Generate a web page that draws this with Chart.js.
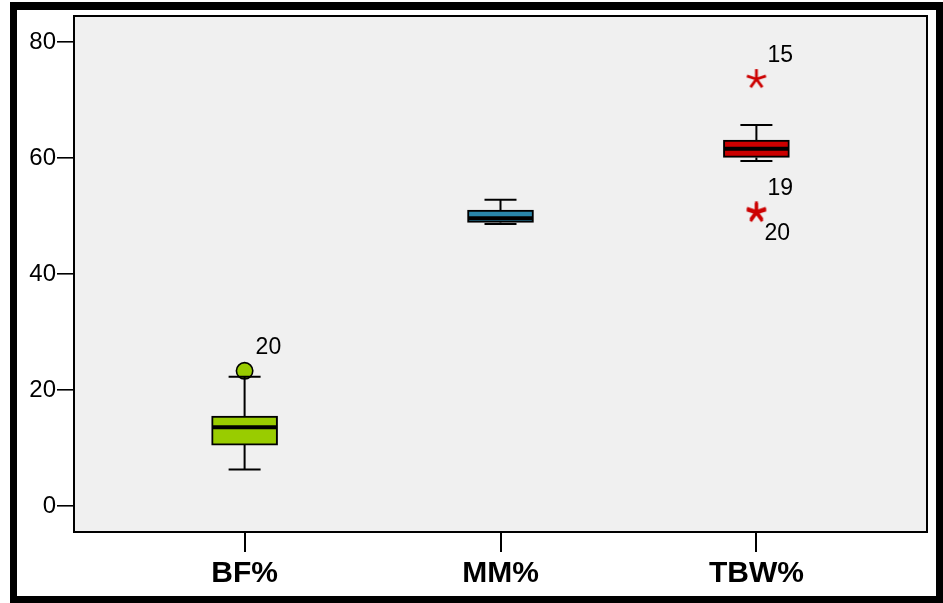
<!DOCTYPE html>
<html>
<head>
<meta charset="utf-8">
<script src="https://cdn.jsdelivr.net/npm/chart.js@4.4.1/dist/chart.umd.min.js"></script>
<style>
  html, body { margin: 0; padding: 0; background: #fff; }
  #wrap { width: 943px; height: 603px; position: relative; }
</style>
</head>
<body>
<div id="wrap"><canvas id="c" width="943" height="603"></canvas></div>
<script>
// Body composition (%) — five-number summaries per measure
const categories  = ['BF%', 'MM%', 'TBW%'];
const boxColors   = ['#99cc00', '#2a87ab', '#cc0000'];
const whiskerLow  = [6.3, 48.6, 59.5];
const quartile1   = [10.5, 48.9, 60.1];
const medians     = [13.6, 49.6, 61.6];
const quartile3   = [15.5, 51.0, 63.1];
const whiskerHigh = [22.3, 52.8, 65.7];
const yTicks      = [0, 20, 40, 60, 80];

// Outlying cases: category index, value, case number
const outlierCat   = [0, 2, 2, 2];
const outlierValue = [23.3, 73.6, 50.8, 50.5];
const outlierCase  = ['20', '15', '19', '20'];
const outlierKind  = ['circle', 'star', 'star', 'star'];

const FONT = "'Liberation Sans', Arial, Helvetica, sans-serif";

// five-armed asterisk used for extreme values
function makeAsterisk(color) {
  const c = document.createElement('canvas');
  c.width = 24; c.height = 24;
  const g = c.getContext('2d');
  g.strokeStyle = color; g.lineWidth = 2.8; g.lineCap = 'butt';
  const r = 10;
  for (let k = 0; k < 5; k++) {
    const a = -Math.PI / 2 + k * 2 * Math.PI / 5;
    g.beginPath();
    g.moveTo(12, 12);
    g.lineTo(12 + r * Math.cos(a), 12 + r * Math.sin(a));
    g.stroke();
  }
  return c;
}
const asterisk = makeAsterisk('#cc0000');

const circlePts = [], starPts = [];
outlierCat.forEach((c, i) => {
  const p = { x: c, y: outlierValue[i], id: outlierCase[i] };
  (outlierKind[i] === 'circle' ? circlePts : starPts).push(p);
});

const framePlugin = {
  id: 'frame',
  beforeDraw(chart) {
    const { ctx, chartArea: a } = chart;
    ctx.save();
    ctx.fillStyle = '#fff';
    ctx.fillRect(0, 0, chart.width, chart.height);
    ctx.fillStyle = '#000';
    ctx.fillRect(10, 2, 933, 601);
    ctx.fillStyle = '#fff';
    ctx.fillRect(17, 10, 919, 586);
    ctx.fillStyle = '#f0f0f0';
    ctx.fillRect(a.left, a.top, a.right - a.left, a.bottom - a.top);
    ctx.restore();
  },
  afterDraw(chart) {
    const { ctx, chartArea: a } = chart;
    ctx.save();
    ctx.strokeStyle = '#000';
    ctx.lineWidth = 2;
    ctx.strokeRect(a.left, a.top, a.right - a.left, a.bottom - a.top);
    ctx.restore();
  }
};

// whiskers, caps and median bars drawn on the chart's own scales
const boxPlugin = {
  id: 'boxParts',
  afterDatasetsDraw(chart) {
    const { ctx, scales: { x, y } } = chart;
    const bars = chart.getDatasetMeta(0).data;
    ctx.save();
    ctx.strokeStyle = '#000';
    categories.forEach((c, i) => {
      const cx = x.getPixelForValue(i);
      const half = bars[i].width / 2;
      const cap = 16;
      ctx.lineWidth = 2;
      ctx.beginPath();
      ctx.moveTo(cx, y.getPixelForValue(quartile3[i]));
      ctx.lineTo(cx, y.getPixelForValue(whiskerHigh[i]));
      ctx.moveTo(cx, y.getPixelForValue(quartile1[i]));
      ctx.lineTo(cx, y.getPixelForValue(whiskerLow[i]));
      ctx.moveTo(cx - cap, y.getPixelForValue(whiskerHigh[i]));
      ctx.lineTo(cx + cap, y.getPixelForValue(whiskerHigh[i]));
      ctx.moveTo(cx - cap, y.getPixelForValue(whiskerLow[i]));
      ctx.lineTo(cx + cap, y.getPixelForValue(whiskerLow[i]));
      ctx.stroke();
      ctx.lineWidth = 4;
      ctx.beginPath();
      ctx.moveTo(cx - half + 1, y.getPixelForValue(medians[i]));
      ctx.lineTo(cx + half - 1, y.getPixelForValue(medians[i]));
      ctx.stroke();
    });
    ctx.restore();
  },
  afterDraw(chart) {
    const { ctx, scales: { x, y } } = chart;
    ctx.save();
    ctx.fillStyle = '#000';
    ctx.font = '23px ' + FONT;
    ctx.textAlign = 'left';
    ctx.textBaseline = 'middle';
    outlierCat.forEach((c, i) => {
      const px = x.getPixelForValue(c);
      const py = y.getPixelForValue(outlierValue[i]);
      // a coincident case sharing the same spot gets its label underneath
      const shared = outlierCat.some((c2, j) => j < i && c2 === c && Math.abs(outlierValue[j] - outlierValue[i]) < 1);
      if (shared) ctx.fillText(outlierCase[i], px + 8, py + 21);
      else ctx.fillText(outlierCase[i], px + 11, py - 23);
    });
    ctx.restore();
  }
};

new Chart(document.getElementById('c'), {
  type: 'bar',
  data: {
    datasets: [
      {
        type: 'bar',
        data: categories.map((c, i) => ({ x: i, y: [quartile1[i], quartile3[i]] })),
        backgroundColor: boxColors,
        borderColor: '#000',
        borderWidth: 2,
        borderSkipped: false,
        barThickness: 66,
        order: 3
      },
      {
        type: 'scatter',
        data: circlePts,
        pointStyle: 'circle',
        pointRadius: 8.2,
        backgroundColor: boxColors[0],
        borderColor: '#000',
        borderWidth: 1.6,
        order: 1
      },
      {
        type: 'scatter',
        data: starPts,
        pointStyle: asterisk,
        pointRadius: 10,
        order: 1
      }
    ]
  },
  options: {
    responsive: false,
    animation: false,
    events: [],
    layout: { padding: { left: 0, top: 16, right: 16, bottom: 0 } },
    plugins: { legend: { display: false }, tooltip: { enabled: false } },
    scales: {
      x: {
        type: 'linear',
        min: -2 / 3,
        max: 8 / 3,
        offset: false,
        afterBuildTicks: s => { s.ticks = categories.map((c, i) => ({ value: i })); },
        afterFit: s => { s.height = 71; },
        ticks: {
          autoSkip: false, maxRotation: 0, color: '#000', padding: 4,
          font: { family: FONT, size: 30, weight: 'bold' },
          callback: v => categories[v]
        },
        grid: { offset: false, drawOnChartArea: false, tickLength: 20, color: '#000', lineWidth: 2 },
        border: { display: false }
      },
      y: {
        min: -4.48,
        max: 84.48,
        afterBuildTicks: s => { s.ticks = yTicks.map(v => ({ value: v })); },
        afterFit: s => { s.width = 74; },
        ticks: { color: '#000', padding: 1, font: { family: FONT, size: 24 } },
        grid: { drawOnChartArea: false, tickLength: 17, color: '#000', lineWidth: 1.6 },
        border: { display: false }
      }
    }
  },
  plugins: [framePlugin, boxPlugin]
});
</script>
</body>
</html>
